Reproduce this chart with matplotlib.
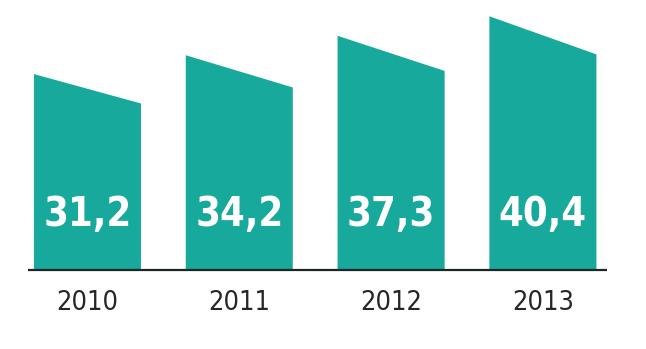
import matplotlib
matplotlib.use("Agg")
import matplotlib.pyplot as plt

years = ["2010", "2011", "2012", "2013"]
values = [31.2, 34.2, 37.3, 40.4]
value_labels = ["31,2", "34,2", "37,3", "40,4"]

teal = "#17a99b"
slant = 0.85     # right edge height relative to left edge
bar_w = 0.705

fig = plt.figure(figsize=(6.46, 3.49), dpi=100)
ax = fig.add_axes([0, 0, 1, 1])
ax.set_xlim(-0.576, 3.679)
ax.set_ylim(-12.58, 43.0)
ax.axis("off")

for i, v in enumerate(values):
    x0, x1 = i - bar_w / 2, i + bar_w / 2
    ax.fill([x0, x0, x1, x1], [0, v, v * slant, 0], color=teal, lw=0)
    ax.text(i, 8.7, value_labels[i], color="white", fontsize=28.5,
            fontweight="bold", family="DejaVu Sans", fontstretch="condensed",
            ha="center", va="center")
    ax.text(i, -5.3, years[i], color="#262626", fontsize=19.5,
            family="DejaVu Sans", fontstretch="condensed",
            ha="center", va="center")

ax.plot([-0.392, 3.422], [0, 0], color="#1c2626", lw=1.6, solid_capstyle="butt")

fig.savefig("out.png", dpi=100)
